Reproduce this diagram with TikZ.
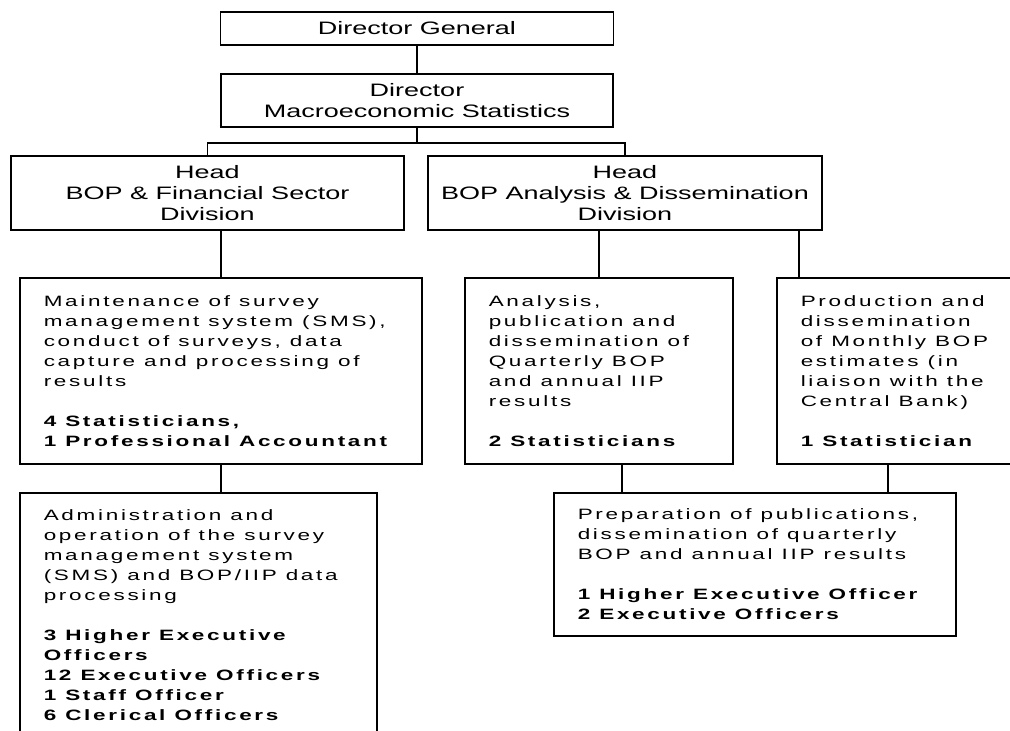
\documentclass[tikz,border=0pt]{standalone}
\usepackage{fontspec}
\newfontfamily\headfont{Liberation Sans}[FakeStretch=1.5]
\newfontfamily\bodyfont{Liberation Sans}[FakeStretch=1.5,LetterSpace=18]
\newcommand\wordgap{\spaceskip=9pt plus 1pt\xspaceskip=9pt plus 1pt\relax}
\usetikzlibrary{positioning,calc}

\begin{document}
\begin{tikzpicture}[x = 1pt, y = -1pt,
  headbox/.style = {draw, line width = 1.6pt, align = center, inner sep = 0pt,
    font = \headfont\fontsize{18}{21}\selectfont},
  taskbox/.style = {draw, line width = 1.6pt, align = left, anchor = north west,
    inner xsep = 24pt, inner ysep = 0pt, font = \bodyfont\fontsize{15}{20}\selectfont,
    execute at begin node = \wordgap},
  link/.style = {line width = 1.6pt}]
\useasboundingbox (0,0) rectangle (1010,731);
\node[headbox, minimum width = 393pt, minimum height = 33pt] (dg) at (417,28.5) {Director General};
\node[headbox, minimum width = 392pt, minimum height = 53pt] (dms) at (417,100.5) {Director\\Macroeconomic Statistics};
\node[headbox, minimum width = 393pt, minimum height = 74pt] (hfs) at (207.5,193) {Head\\BOP \& Financial Sector\\Division};
\node[headbox, minimum width = 394pt, minimum height = 74pt] (had) at (625,193) {Head\\BOP Analysis \& Dissemination\\Division};
\node[taskbox, text width = 354pt, minimum height = 186pt] (mnt) at (19,277) {Maintenance of survey\\management system (SMS),\\conduct of surveys, data\\capture and processing of\\results\\[20pt]\textbf{4 Statisticians,}\\\textbf{1 Professional Accountant}};
\node[taskbox, text width = 220pt, minimum height = 186pt] (ana) at (464,277) {Analysis,\\publication and\\dissemination of\\Quarterly BOP\\and annual IIP\\results\\[20pt]\textbf{2 Statisticians}};
\node[taskbox, text width = 212pt, minimum height = 186pt] (prd) at (776,277) {Production and\\dissemination\\of Monthly BOP\\estimates (in\\liaison with the\\Central Bank)\\[20pt]\textbf{1 Statistician}};
\node[taskbox, text width = 309pt, minimum height = 244pt] (adm) at (19,492) {Administration and\\operation of the survey\\management system\\(SMS) and BOP/IIP data\\processing\\[20pt]\textbf{3 Higher Executive}\\\textbf{Officers}\\\textbf{12 Executive Officers}\\\textbf{1 Staff Officer}\\\textbf{6 Clerical Officers}};
\node[taskbox, text width = 354pt, minimum height = 143pt] (prp) at (553,492) {Preparation of publications,\\dissemination of quarterly\\BOP and annual IIP results\\[20pt]\textbf{1 Higher Executive Officer}\\\textbf{2 Executive Officers}};
% connectors
\coordinate (split) at ($(dms.south)+(0,15)$);
\coordinate (prdtop) at ([xshift=23pt]prd.north west);
\coordinate (anafoot) at ([xshift=23pt]ana.south);
\coordinate (prdfoot) at ([xshift=112pt]prd.south west);
\draw[link] (dg) -- (dms);
\draw[link] (dms.south) -- (split);
\draw[link] (hfs.north) |- (split) -| (had.north);
\draw[link] (hfs.south -| mnt.north) -- (mnt.north);
\draw[link] (had.south -| ana.north) -- (ana.north);
\draw[link] (had.south -| prdtop) -- (prdtop);
\draw[link] (mnt.south) -- (mnt.south |- adm.north);
\draw[link] (anafoot) -- (anafoot |- prp.north);
\draw[link] (prdfoot) -- (prdfoot |- prp.north);
\end{tikzpicture}
\end{document}
